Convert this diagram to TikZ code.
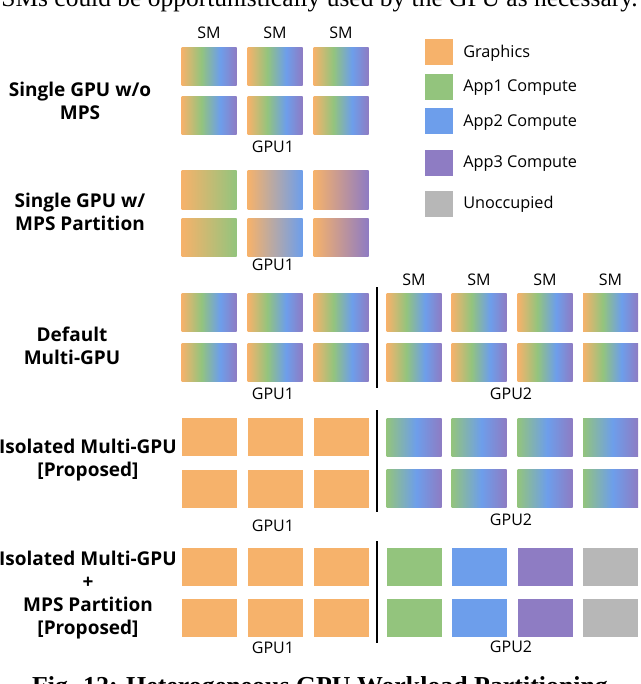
\documentclass[tikz,border=0pt]{standalone}
\usepackage{fontspec}
\setmainfont{Open Sans}
\newfontfamily\capfont{Liberation Serif}
\definecolor{cOr}{HTML}{F6B26B}
\definecolor{cGr}{HTML}{93C47D}
\definecolor{cBl}{HTML}{6D9EEB}
\definecolor{cPu}{HTML}{8E7CC3}
\definecolor{cGy}{HTML}{B7B7B7}
\pgfdeclarehorizontalshading{rainbowS}{100bp}{color(0bp)=(cOr); color(25bp)=(cOr); color(43bp)=(cGr); color(60bp)=(cBl); color(75bp)=(cPu); color(100bp)=(cPu)}
\pgfdeclarehorizontalshading{gbpS}{100bp}{color(0bp)=(cGr); color(25bp)=(cGr); color(52bp)=(cBl); color(75bp)=(cPu); color(100bp)=(cPu)}
\tikzset{
  smbox/.style={minimum width=41.25pt, minimum height=28.5pt, inner sep=0pt, outer sep=0pt},
  rb/.style={smbox, shade, shading=rainbowS},
  gbp/.style={smbox, shade, shading=gbpS},
  og/.style={smbox, left color=cOr, right color=cGr},
  ob/.style={smbox, left color=cOr, right color=cBl},
  op/.style={smbox, left color=cOr, right color=cPu},
  solid box/.style={smbox, fill=#1},
  lbl/.style={font=\fontsize{12}{14}\selectfont, anchor=base, inner sep=0pt},
  rowlbl/.style={font=\bfseries\fontsize{14.25}{17.25}\selectfont, align=center, inner sep=0pt},
  legsq/.style={minimum width=21pt, minimum height=19.5pt, inner sep=0pt, fill=#1},
  legtxt/.style={font=\fontsize{12.2}{14}\selectfont, anchor=base west, inner sep=0pt},
  sepline/.style={line width=1.1pt, black}
}
\begin{document}
\begin{tikzpicture}[x=0.75pt, y=-0.75pt]
\useasboundingbox (0,0) rectangle (640,684);
\clip (0,0) rectangle (640,684);
% partial captions
\node[anchor=base east, inner sep=0pt, font=\capfont\fontsize{19.1}{22}\selectfont] (captop) at (638,7) {SMs could be opportunistically used by the GPU as necessary.};
\node[anchor=base, inner sep=0pt, font=\capfont\bfseries\fontsize{19.4}{22}\selectfont] (capbot) at (320,694) {Fig. 12: Heterogeneous GPU Workload Partitioning};
% row labels
\node[rowlbl] (l1) at (80,100.5) {Single GPU w/o\\MPS};
\node[rowlbl] (l2) at (80,211.5) {Single GPU w/\\MPS Partition};
\node[rowlbl] (l3) at (72,346) {Default\\Multi-GPU};
\node[rowlbl] (l4) at (88,460.5) {Isolated Multi-GPU\\{[Proposed]}};
\node[rowlbl] (l5) at (88,595.5) {Isolated Multi-GPU\\+\\MPS Partition\\{[Proposed]}};
% section 1
\foreach \c/\x in {1/209,2/275,3/341}{
  \node[lbl] (smA\c) at (\x,39) {SM};
  \node[rb] (a1\c) at (\x,66.5) {};
  \node[rb] (a2\c) at (\x,116) {};
}
\node[lbl] (gA) at (273,153) {GPU1};
% section 2
\node[og] (b11) at (209,190) {};
\node[ob] (b12) at (275,190) {};
\node[op] (b13) at (341,190) {};
\node[og] (b21) at (209,237.5) {};
\node[ob] (b22) at (275,237.5) {};
\node[op] (b23) at (341,237.5) {};
\node[lbl] (gB) at (273,270) {GPU1};
% section 3
\foreach \c/\x in {1/209,2/275,3/341}{
  \node[rb] (c1\c) at (\x,312.5) {};
  \node[rb] (c2\c) at (\x,362) {};
}
\foreach \c/\x in {1/414,2/479,3/545,4/610.5}{
  \node[lbl] (smC\c) at (\x,285) {SM};
  \node[rb] (d1\c) at (\x,312.5) {};
  \node[rb] (d2\c) at (\x,362) {};
}
\node[lbl] (gC1) at (273,399) {GPU1};
\node[lbl] (gC2) at (511,399) {GPU2};
\coordinate (sC1) at (377,287);
\coordinate (sC2) at (377,388);
\draw[sepline] (sC1) -- (sC2);
% section 4
\foreach \c/\x in {1/209,2/275,3/341}{
  \node[solid box=cOr] (e1\c) at (\x,437) {};
  \node[solid box=cOr] (e2\c) at (\x,488.5) {};
}
\foreach \c/\x in {1/414,2/479,3/545,4/610.5}{
  \node[gbp] (f1\c) at (\x,437) {};
  \node[gbp] (f2\c) at (\x,488.5) {};
}
\node[lbl] (gD1) at (273,531) {GPU1};
\node[lbl] (gD2) at (511,525) {GPU2};
\coordinate (sD1) at (377,410);
\coordinate (sD2) at (377,512);
\draw[sepline] (sD1) -- (sD2);
% section 5
\foreach \c/\x in {1/209,2/275,3/341}{
  \node[solid box=cOr] (g1\c) at (\x,566.5) {};
  \node[solid box=cOr] (g2\c) at (\x,618) {};
}
\foreach \c/\x/\col in {1/414/cGr,2/479/cBl,3/545/cPu,4/610.5/cGy}{
  \node[solid box=\col] (h1\c) at (\x,566.5) {};
  \node[solid box=\col] (h2\c) at (\x,618) {};
}
\node[lbl] (gE1) at (273,653) {GPU1};
\node[lbl] (gE2) at (511,652) {GPU2};
\coordinate (sE1) at (377,541);
\coordinate (sE2) at (377,643);
\draw[sepline] (sE1) -- (sE2);
% legend
\node[legsq=cOr] (k1) at (439,52) {};
\node[legsq=cGr] (k2) at (439,87) {};
\node[legsq=cBl] (k3) at (439,121.5) {};
\node[legsq=cPu] (k4) at (439,163) {};
\node[legsq=cGy] (k5) at (439,204) {};
\node[legtxt] (t1) at (463,57.5) {Graphics};
\node[legtxt] (t2) at (463,92) {App1 Compute};
\node[legtxt] (t3) at (463,126.5) {App2 Compute};
\node[legtxt] (t4) at (463,168) {App3 Compute};
\node[legtxt] (t5) at (463,209) {Unoccupied};
\end{tikzpicture}
\end{document}
